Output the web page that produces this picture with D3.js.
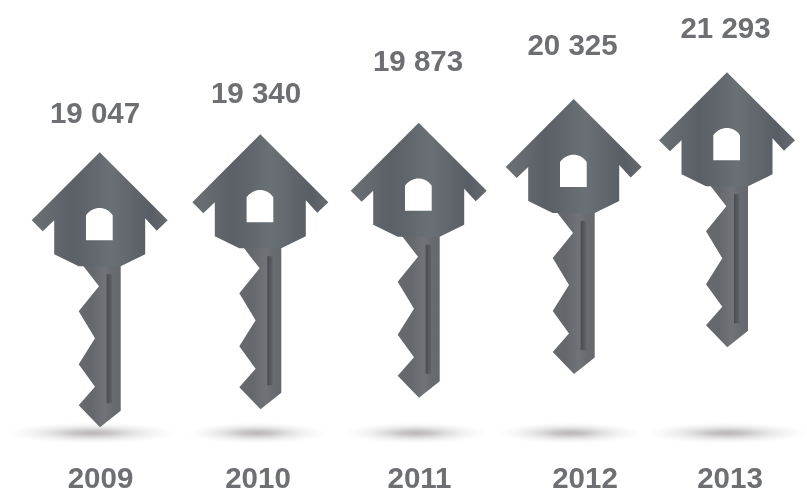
<!DOCTYPE html>
<html>
<head>
<meta charset="utf-8">
<script src="https://cdn.jsdelivr.net/npm/d3@7"></script>
<style>
  html, body { margin: 0; padding: 0; background: #fff; }
  svg { display: block; }
  text { font-family: "Liberation Sans", Arial, sans-serif; font-weight: 700; font-size: 29.5px; fill: #6d6f72; text-anchor: middle; }
</style>
</head>
<body>
<svg id="chart" width="807" height="494"></svg>
<script>
// Data
const years = ["2009", "2010", "2011", "2012", "2013"];
const values = [19047, 19340, 19873, 20325, 21293];

// Layout scales
const keyX = d3.scaleOrdinal().domain(years).range([99.7, 260.3, 418.7, 573.7, 727]);
const keyTop = d3.scaleLinear().domain(values).range([152.3, 134.3, 122.7, 99, 72.3]);
const valueLabelX = d3.scaleOrdinal().domain(years).range([95, 256, 418, 572.5, 725.5]);
const valueBaseline = d3.scaleLinear().domain(values).range([122.5, 102.5, 71, 55, 37.5]);
const yearLabelX = d3.scaleOrdinal().domain(years).range([100.5, 258, 419.5, 585, 730]);
const shadowX = d3.scaleOrdinal().domain(years).range([92, 257, 416, 570, 727]);
const shadowRx = d3.scaleOrdinal().domain(years).range([88, 72, 74, 74, 84]);

const groundY = 433;
const yearBaseline = 488;

const fmt = d3.formatLocale({ thousands: " ", grouping: [3], decimal: ".", currency: ["", ""] }).format(",d");

// Key glyph outlines, relative to the roof apex
const houseOutline = [
  [0, 0], [68, 68], [57, 78.5], [45.5, 66], [45.5, 102], [21, 114], [-21, 114],
  [-45.5, 102], [-45.5, 68], [-57, 79], [-68, 68]
];
const bladeOutline = [
  [-17, 113], [21, 113], [21, 258.5], [0.3, 275], [-21, 253], [-4.7, 234.5], [-21, 212],
  [-4.7, 186], [-21, 159], [-0.7, 134]
];
const slotOutline = [[7, 122], [12.3, 122], [12.3, 251], [7, 251]];

const svg = d3.select("#chart");
const line = d3.line();
const closed = pts => line(pts) + "Z";

// House window with its arched top
function windowPath() {
  const p = d3.path();
  p.moveTo(-13.7, 88);
  p.lineTo(-13.7, 63);
  p.bezierCurveTo(-10, 58, -5, 55.7, -0.3, 55.7);
  p.bezierCurveTo(5, 55.7, 9.5, 58, 13, 63);
  p.lineTo(13, 88);
  p.closePath();
  return p.toString();
}

const defs = svg.append("defs");

const addGradient = (id, stops) => {
  const g = defs.append("linearGradient").attr("id", id)
    .attr("x1", 0).attr("x2", 1).attr("y1", 0).attr("y2", 0);
  g.selectAll("stop").data(stops).join("stop")
    .attr("offset", d => d[0]).attr("stop-color", d => d[1]);
};

addGradient("houseFill", [
  [0, "#697074"], [0.14, "#64696e"], [0.29, "#5a6066"], [0.42, "#60666b"],
  [0.58, "#6a7175"], [0.72, "#61676c"], [0.87, "#585e65"], [1, "#646a6e"]
]);
addGradient("bladeFill", [
  [0, "#66696e"], [0.3, "#64686c"], [0.62, "#707378"], [0.8, "#686b70"], [1, "#65696d"]
]);
addGradient("slotFill", [
  [0, "#484c50"], [0.5, "#54585d"], [1, "#5e6267"]
]);

const shadowGradient = defs.append("radialGradient").attr("id", "groundShadow");
shadowGradient.selectAll("stop")
  .data([[0, "#bcb8ba", 1], [0.22, "#c6c3c4", 0.95], [0.5, "#dcdbdb", 0.7], [0.75, "#ececec", 0.45], [1, "#f6f6f6", 0]])
  .join("stop")
  .attr("offset", d => d[0])
  .attr("stop-color", d => d[1])
  .attr("stop-opacity", d => d[2]);

// Ground shadows
svg.append("g").selectAll("ellipse")
  .data(years)
  .join("ellipse")
  .attr("cx", d => shadowX(d))
  .attr("cy", groundY)
  .attr("rx", d => shadowRx(d))
  .attr("ry", 11)
  .attr("fill", "url(#groundShadow)")
  .style("mix-blend-mode", "multiply");

const rows = years.map((year, i) => ({ year, value: values[i] }));

// Keys
const keys = svg.append("g").selectAll("g")
  .data(rows)
  .join("g")
  .attr("transform", d => `translate(${keyX(d.year)},${keyTop(d.value)})`);

keys.append("path").attr("d", closed(bladeOutline)).attr("fill", "url(#bladeFill)");
keys.append("path").attr("d", closed(slotOutline)).attr("fill", "url(#slotFill)");
keys.append("path")
  .attr("d", closed(houseOutline) + windowPath())
  .attr("fill", "url(#houseFill)")
  .attr("fill-rule", "evenodd");

// Value labels
svg.append("g").selectAll("text")
  .data(rows)
  .join("text")
  .attr("x", d => valueLabelX(d.year))
  .attr("y", d => valueBaseline(d.value))
  .text(d => fmt(d.value));

// Year labels
svg.append("g").selectAll("text")
  .data(years)
  .join("text")
  .attr("x", d => yearLabelX(d))
  .attr("y", yearBaseline)
  .text(d => d);
</script>
</body>
</html>
